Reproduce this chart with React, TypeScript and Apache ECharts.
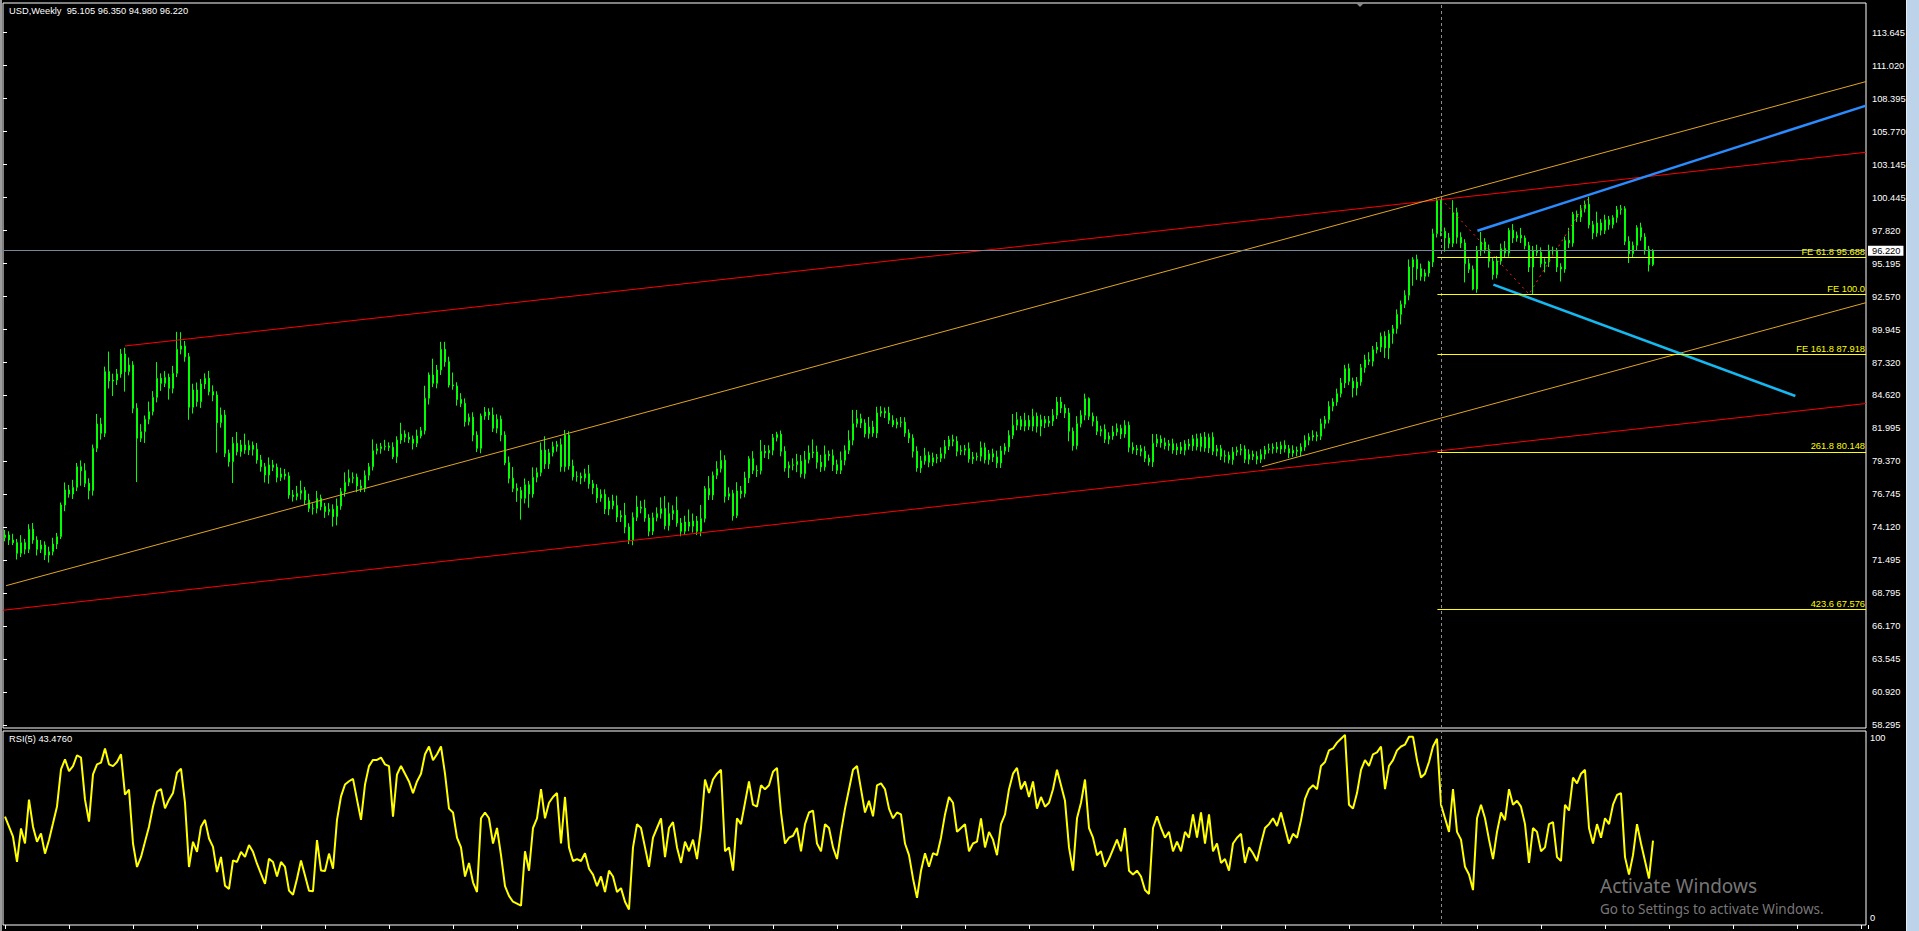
import React, { useEffect, useRef } from 'react';
import * as echarts from 'echarts';

// ---------- DATA ----------
const symbolName = 'USD';
const timeframe = 'Weekly';
const firstOpen = 73.3;
const lastOpen = 95.105;

const closes = [
  73.50, 73.10, 72.89, 72.04, 72.89, 72.36, 73.96, 73.10, 72.36, 72.70,
  71.90, 72.17, 72.78, 73.37, 75.90, 77.10, 76.78, 77.31, 78.96, 78.64,
  77.63, 77.05, 80.43, 82.37, 81.63, 86.56, 85.81, 85.89, 86.37, 87.97,
  86.56, 87.09, 83.63, 81.23, 81.76, 82.75, 83.36, 84.50, 86.02, 85.62,
  86.10, 85.22, 86.42, 88.34, 88.61, 87.75, 83.71, 85.09, 84.16, 85.57,
  86.02, 84.96, 84.69, 82.48, 83.09, 80.03, 79.36, 80.83, 80.16, 80.70,
  80.29, 80.67, 80.35, 79.50, 78.96, 78.30, 79.10, 78.91, 78.11, 78.38,
  78.22, 76.70, 76.57, 76.83, 77.05, 76.30, 75.63, 75.63, 76.43, 75.77,
  75.37, 75.55, 74.97, 75.82, 76.97, 77.71, 78.03, 78.11, 77.42, 77.23,
  78.27, 78.96, 80.24, 80.40, 80.56, 80.61, 80.51, 79.76, 81.09, 81.57,
  81.31, 81.15, 80.83, 81.42, 81.84, 84.43, 86.29, 85.62, 86.69, 88.34,
  87.35, 85.49, 85.41, 84.34, 84.02, 82.56, 82.91, 81.49, 80.43, 83.01,
  83.33, 83.09, 82.03, 82.75, 81.49, 79.28, 78.03, 77.23, 77.05, 76.43,
  77.52, 76.78, 78.11, 78.49, 80.29, 79.18, 80.08, 80.56, 80.72, 78.96,
  81.49, 79.02, 78.16, 78.19, 78.06, 78.40, 77.60, 77.26, 76.46, 76.75,
  75.58, 76.22, 75.85, 74.94, 75.07, 74.14, 73.08, 74.91, 75.74, 75.63,
  74.86, 73.80, 74.89, 75.21, 75.61, 74.25, 75.21, 75.47, 74.46, 73.80,
  74.54, 74.20, 74.62, 73.80, 74.81, 77.21, 76.70, 78.27, 78.80, 79.47,
  76.59, 76.81, 75.05, 77.02, 76.81, 78.06, 79.60, 78.67, 78.64, 80.19,
  80.06, 80.27, 81.28, 81.55, 80.19, 78.86, 79.07, 79.12, 79.39, 78.40,
  79.52, 80.06, 80.14, 79.31, 78.94, 79.95, 79.84, 79.12, 78.67, 79.47,
  80.27, 81.07, 82.40, 82.80, 82.45, 81.60, 82.13, 81.65, 83.25, 83.39,
  83.25, 82.67, 82.32, 82.53, 82.51, 81.65, 81.25, 80.19, 78.86, 79.42,
  79.87, 79.31, 79.68, 79.63, 80.00, 80.59, 81.12, 80.99, 80.19, 80.27,
  80.40, 79.58, 79.74, 79.79, 80.48, 79.52, 80.00, 79.74, 79.26, 80.22,
  80.54, 81.47, 82.27, 82.72, 82.19, 82.67, 82.19, 82.99, 82.19, 82.72,
  82.45, 82.61, 83.07, 84.13, 83.65, 83.25, 81.79, 80.64, 82.40, 83.07,
  84.40, 82.99, 82.59, 81.79, 81.94, 81.15, 81.41, 81.73, 82.02, 81.57,
  82.27, 80.51, 80.29, 80.40, 80.19, 79.63, 79.34, 80.83, 81.17, 80.88,
  80.64, 80.80, 80.29, 80.53, 80.27, 80.78, 80.62, 81.20, 80.56, 81.33,
  80.45, 81.31, 80.19, 80.40, 79.79, 79.87, 79.52, 80.13, 80.27, 80.37,
  79.55, 79.95, 79.79, 79.55, 79.95, 80.32, 80.40, 80.53, 80.37, 80.67,
  80.40, 80.05, 80.27, 80.19, 80.53, 81.07, 81.33, 81.47, 81.39, 82.40,
  82.72, 83.79, 84.13, 84.80, 85.65, 86.80, 85.78, 85.25, 85.73, 86.87,
  87.51, 87.38, 88.31, 88.52, 89.38, 88.45, 89.59, 89.99, 91.13, 91.94,
  92.66, 94.92, 95.51, 94.79, 94.17, 94.44, 95.32, 97.58, 100.25, 97.77,
  97.24, 96.81, 99.26, 97.29, 96.84, 95.19, 94.74, 93.16, 96.20, 96.92,
  96.31, 95.37, 94.31, 95.40, 96.39, 96.04, 97.85, 97.24, 97.45, 97.24,
  96.63, 94.92, 96.20, 96.09, 95.19, 95.32, 96.20, 96.25, 94.92, 94.76,
  97.05, 96.84, 99.13, 98.92, 99.58, 99.93, 98.30, 97.64, 98.44, 97.85,
  98.70, 98.30, 98.86, 99.50, 99.58, 96.97, 95.99, 96.65, 98.06, 97.32,
  96.31, 95.11, 96.22,
];

// upper / lower shadow lengths (price units) above / below the body
const wickUp = [
  0.4, 0.3, 0.5, 0.3, 0.6, 0.3, 0.4, 0.5, 0.3, 0.4,
  0.3, 0.4, 0.5, 0.3, 0.2, 0.6, 0.4, 0.6, 0.3, 0.5,
  0.6, 0.4, 0.3, 0.8, 0.5, 0.4, 1.6, 0.5, 0.4, 0.4,
  0.5, 0.6, 0.3, 0.4, 0.6, 0.3, 0.8, 0.5, 1.3, 0.4,
  0.5, 0.3, 0.6, 1.4, 1.1, 0.4, 0.3, 0.5, 0.6, 0.4,
  0.4, 0.6, 0.5, 0.3, 0.6, 0.4, 0.3, 0.5, 0.9, 0.4,
  0.9, 0.4, 0.3, 0.5, 0.4, 0.3, 0.6, 0.4, 0.3, 0.5,
  0.4, 0.3, 0.4, 0.6, 0.8, 0.3, 0.5, 0.4, 0.6, 0.3,
  0.3, 0.5, 0.4, 0.6, 0.3, 0.8, 0.7, 0.4, 0.3, 0.5,
  0.4, 0.3, 0.9, 0.4, 0.3, 0.5, 0.3, 0.4, 0.3, 0.9,
  0.3, 0.4, 0.3, 0.5, 0.3, 1.0, 0.2, 1.3, 0.4, 0.6,
  0.6, 0.4, 1.0, 0.3, 0.5, 0.4, 0.3, 0.4, 0.3, 0.2,
  0.4, 0.3, 0.6, 0.4, 0.3, 0.3, 0.5, 0.9, 0.4, 0.3,
  0.5, 0.3, 0.8, 0.4, 0.6, 1.1, 0.3, 0.4, 0.3, 0.5,
  0.4, 0.3, 0.5, 0.4, 0.3, 0.4, 0.7, 0.3, 0.3, 0.4,
  0.4, 0.3, 0.5, 0.8, 0.4, 1.0, 0.3, 0.4, 0.9, 0.5,
  0.7, 0.3, 0.4, 0.5, 0.9, 1.0, 0.9, 0.4, 1.1, 0.4,
  0.5, 1.0, 0.6, 0.4, 1.1, 0.2, 1.0, 0.3, 0.6, 0.8,
  0.4, 0.5, 0.3, 0.7, 0.4, 0.5, 0.2, 0.6, 0.4, 0.9,
  0.5, 0.4, 0.3, 0.2, 0.3, 0.4, 0.3, 0.5, 0.6, 0.5,
  0.7, 0.6, 1.0, 0.5, 0.6, 0.7, 0.3, 0.5, 0.4, 0.7,
  0.4, 0.8, 1.1, 0.7, 0.4, 0.3, 0.8, 0.5, 0.5, 0.4,
  0.3, 0.5, 0.4, 0.3, 0.4, 0.4, 0.3, 0.3, 0.4, 0.4,
  0.6, 0.3, 0.4, 0.3, 0.5, 0.5, 0.3, 0.4, 0.4, 0.4,
  0.3, 0.5, 0.4, 0.3, 0.5, 0.4, 0.3, 0.4, 0.5, 0.4,
  0.3, 0.4, 0.9, 0.6, 0.3, 0.6, 0.4, 0.6, 0.3, 0.4,
  0.3, 0.4, 0.5, 0.4, 0.4, 0.3, 0.4, 0.3, 0.6, 0.4,
  0.4, 0.1, 0.3, 0.4, 0.3, 0.4, 0.3, 0.5, 0.4, 0.3,
  0.4, 0.3, 0.4, 0.3, 0.3, 0.4, 0.3, 0.75, 0.4, 0.3,
  0.4, 0.3, 0.4, 0.3, 0.4, 0.3, 0.4, 0.3, 0.4, 0.3,
  0.4, 0.3, 0.4, 0.3, 0.3, 0.4, 0.3, 0.4, 0.3, 0.4,
  0.3, 0.4, 0.3, 0.4, 0.4, 0.3, 0.4, 0.3, 0.4, 0.3,
  0.4, 0.3, 0.4, 0.3, 0.3, 0.4, 0.3, 0.4, 0.3, 0.4,
  0.3, 0.4, 0.3, 0.4, 0.4, 0.3, 0.4, 0.3, 0.4, 0.3,
  0.4, 0.6, 0.3, 0.4, 0.3, 0.4, 0.3, 0.3, 0.4, 0.3,
  0.4, 0.6, 0.2, 0.4, 0.4, 0.3, 0.1, 0.4, 0.2, 0.1,
  0.3, 0.4, 1.0, 0.4, 0.4, 0.3, 0.4, 0.3, 0.4, 0.8,
  0.3, 0.4, 0.3, 0.4, 0.4, 0.6, 0.2, 0.5, 0.3, 0.6,
  0.2, 0.3, 0.4, 0.5, 0.4, 0.3, 0.5, 0.3, 0.2, 0.3,
  0.3, 1.0, 0.2, 0.3, 0.3, 0.3, 0.6, 0.3, 0.9, 0.3,
  0.4, 0.3, 0.2, 0.3, 0.3, 0.2, 0.4, 0.3, 0.2, 0.4,
  0.3, 0.3, 0.13,
];

const wickDn = [
  0.3, 0.4, 0.2, 0.5, 0.3, 0.4, 0.3, 0.3, 0.5, 0.3,
  0.4, 0.6, 0.3, 0.4, 0.2, 0.5, 0.3, 0.4, 0.3, 1.2,
  0.3, 0.7, 0.4, 0.3, 0.5, 0.3, 0.6, 1.2, 0.4, 0.3,
  1.6, 0.3, 0.4, 3.5, 0.3, 0.9, 0.4, 0.3, 0.4, 0.6,
  0.3, 0.9, 0.4, 0.3, 0.4, 0.4, 1.0, 0.5, 0.4, 0.5,
  0.4, 0.3, 0.5, 2.4, 0.4, 0.3, 0.4, 1.7, 0.3, 0.4,
  0.3, 0.4, 0.5, 0.3, 0.4, 0.6, 0.7, 0.3, 0.4, 0.3,
  0.3, 0.3, 0.4, 0.3, 0.5, 0.4, 0.3, 0.5, 0.4, 0.3,
  0.5, 0.3, 0.8, 0.7, 0.3, 0.4, 0.3, 0.4, 0.5, 0.3,
  0.3, 0.4, 0.3, 0.3, 0.4, 0.3, 0.3, 0.2, 0.5, 0.3,
  0.4, 0.3, 0.5, 0.3, 0.2, 0.3, 0.5, 0.3, 0.4, 0.4,
  0.4, 0.2, 0.3, 0.5, 0.3, 0.4, 0.3, 0.5, 0.3, 0.4,
  0.3, 0.4, 0.3, 0.4, 0.5, 0.2, 0.4, 0.3, 0.9, 1.7,
  0.4, 1.1, 0.3, 0.4, 0.3, 0.4, 0.4, 0.3, 0.4, 0.4,
  0.4, 0.3, 0.3, 0.4, 0.5, 0.3, 0.4, 0.5, 0.4, 0.3,
  0.4, 0.5, 0.3, 0.4, 0.4, 0.5, 0.3, 0.4, 0.3, 0.4,
  0.3, 0.4, 0.3, 0.3, 0.4, 0.3, 0.4, 0.5, 0.3, 0.4,
  0.3, 0.4, 0.5, 0.3, 0.4, 0.3, 0.4, 0.4, 0.3, 0.3,
  0.5, 0.3, 0.4, 0.2, 0.4, 0.3, 0.4, 0.3, 0.5, 0.3,
  0.4, 0.5, 0.4, 0.3, 0.4, 0.3, 0.8, 0.4, 0.6, 0.3,
  0.4, 0.3, 0.4, 0.5, 0.4, 0.3, 0.4, 0.5, 0.3, 0.3,
  0.4, 0.3, 0.4, 0.3, 0.4, 0.3, 0.4, 0.3, 0.4, 0.3,
  0.4, 0.3, 0.2, 0.3, 0.4, 0.3, 0.4, 0.5, 0.3, 0.4,
  0.3, 0.4, 0.3, 0.4, 0.3, 0.4, 0.3, 0.4, 0.4, 0.3,
  0.4, 0.3, 0.4, 0.3, 0.4, 0.3, 0.4, 0.4, 0.4, 0.4,
  0.3, 0.4, 0.3, 0.4, 0.3, 0.4, 0.3, 0.4, 0.5, 0.8,
  0.4, 0.3, 0.4, 0.3, 0.4, 0.4, 0.8, 0.4, 0.3, 0.3,
  0.4, 0.3, 0.4, 0.3, 0.4, 0.3, 0.4, 0.3, 0.3, 0.4,
  0.3, 0.4, 0.3, 0.4, 0.4, 0.3, 0.3, 0.4, 0.3, 0.4,
  0.3, 0.4, 0.3, 0.4, 0.3, 0.4, 0.3, 0.4, 0.3, 0.4,
  0.3, 0.4, 0.3, 0.4, 0.3, 0.5, 0.3, 0.4, 0.3, 0.4,
  0.3, 0.4, 0.3, 0.4, 0.3, 0.4, 0.3, 0.4, 0.3, 0.4,
  0.3, 0.4, 0.3, 0.4, 0.4, 0.3, 0.4, 0.3, 0.4, 0.3,
  0.4, 0.3, 0.4, 0.3, 0.3, 0.4, 0.3, 0.75, 0.6, 0.3,
  0.4, 0.3, 0.4, 0.3, 0.4, 0.8, 0.9, 0.8, 0.4, 0.8,
  0.3, 0.4, 1.5, 0.9, 0.35, 0.4, 0.3, 0.4, 0.3, 0.4,
  1.1, 0.4, 0.3, 0.5, 0.4, 1.5, 0.3, 0.1, 0.3, 0.4,
  0.3, 0.5, 0.4, 0.3, 0.3, 0.4, 0.3, 0.4, 0.3, 0.4,
  0.3, 0.4, 2.2, 0.3, 0.3, 0.7, 0.4, 0.3, 0.4, 1.0,
  0.3, 0.4, 0.3, 0.4, 0.4, 0.3, 0.3, 0.5, 0.3, 0.4,
  0.3, 0.4, 0.3, 0.4, 0.4, 0.3, 0.75, 0.3, 0.4, 0.3,
  0.4, 0.55, 0.125,
];

// RSI(5)
const rsiValues = [
  55.9, 50.7, 45.5, 32.5, 49.8, 42.0, 64.6, 50.7, 42.9, 47.2,
  36.8, 43.8, 52.4, 61.1, 80.2, 85.4, 79.3, 81.9, 87.5, 86.3,
  64.6, 53.3, 77.6, 82.8, 83.7, 91.0, 82.8, 81.9, 84.0, 88.0,
  67.2, 69.8, 42.0, 29.9, 35.1, 42.9, 50.7, 61.1, 68.9, 70.1,
  60.2, 64.6, 68.1, 78.5, 80.6, 62.9, 29.9, 42.9, 37.7, 50.7,
  54.2, 44.6, 40.3, 27.3, 35.1, 20.3, 18.6, 33.3, 32.5, 37.7,
  35.1, 41.2, 37.7, 31.6, 26.4, 21.2, 34.2, 32.5, 25.0, 32.5,
  29.9, 17.7, 15.6, 23.8, 33.3, 25.5, 17.7, 17.4, 43.8, 28.1,
  27.8, 36.8, 29.0, 54.2, 66.3, 72.4, 74.1, 75.3, 64.6, 54.2,
  72.4, 81.9, 85.1, 85.1, 86.3, 82.8, 81.9, 55.9, 77.6,
  82, 78, 74, 68, 74, 78, 88, 92, 85, 88, 92,
  78, 60, 58, 45, 40, 25, 32, 22, 17, 55,
  58, 55, 42, 50, 36, 20, 15, 12, 11, 10,
  38, 28, 50, 55, 70, 55, 63, 66, 68, 42,
  66, 40, 33, 34, 33, 37, 29, 26, 20, 25,
  17, 28, 25, 17, 19, 12, 8, 40, 52, 50,
  40, 30, 45, 50, 55, 35, 50, 53, 40, 32,
  43, 38, 44, 34, 50, 75, 68, 75, 78, 80,
  38, 40, 28, 55, 52, 63, 74, 62, 61, 72,
  70, 72, 79, 81, 58, 42, 45, 46, 50, 38,
  52, 58, 59, 42, 38, 52, 50, 40, 34, 48,
  60, 70, 80, 82, 70, 58, 64, 56, 72, 73,
  70, 60, 55, 58, 57, 42, 36, 24, 14, 28,
  37, 30, 37, 36, 45, 57, 66, 63, 48, 50,
  52, 38, 42, 43, 55, 40, 48, 44, 36, 52,
  57, 70, 78, 81, 70, 74, 66, 74, 60, 66,
  61, 63, 70, 80, 72, 64, 40, 28, 55, 63,
  75, 50, 45, 36, 38, 30, 34, 39, 44, 38,
  50, 28, 26, 28, 25, 18, 16, 50, 56, 50,
  45, 48, 38, 43, 38, 48, 45, 57, 45, 58,
  42, 57, 38, 42, 32, 34, 28, 42, 45, 47,
  32, 40, 37, 33, 42, 50, 52, 55, 51, 58,
  50, 42, 47, 45, 54, 65, 70, 72, 70, 82,
  84, 90, 91, 94, 96, 98, 62, 60, 68, 80,
  85, 82, 88, 89, 92, 70, 82, 85, 90, 92,
  93, 97, 97, 85, 76, 78, 84, 92, 96, 62,
  55, 48, 70, 48, 44, 30, 26, 18, 55, 62,
  55, 44, 34, 48, 58, 54, 70, 62, 64, 61,
  52, 32, 50, 48, 38, 40, 52, 53, 35, 33,
  62, 59, 76, 73, 78, 80, 50, 42, 52, 45,
  55, 52, 62, 67, 68, 35, 26, 36, 52, 42,
  33, 24, 43.476,
];

// price scale labels, top to bottom
const priceTicks = [
  '113.645', '111.020', '108.395', '105.770', '103.145', '100.445', '97.820',
  '95.195', '92.570', '89.945', '87.320', '84.620', '81.995', '79.370', '76.745',
  '74.120', '71.495', '68.795', '66.170', '63.545', '60.920', '58.295',
];
const rsiTicks = ['100', '0'];

const currentPrice = 96.22;
const cursorBar = 359;

// Fibonacci expansion levels
const feLabels = ['FE 61.8 95.688', 'FE 100.0', 'FE 161.8 87.918', '261.8 80.148', '423.6 67.576'];
const feValues = [95.688, 92.72, 87.918, 80.148, 67.576];
const feStart = 358.1;
// Fibo expansion path A -> B -> C
const fePath = [[359, 100.37], [381, 92.75], [396, 100.49]];

// trend lines [bar index, price]
const redUpper = [[30, 88.61], [465.25, 104.09]];
const redLower = [[-0.5, 67.49], [465.25, 84.01]];
const orangeLong = [[0.25, 69.45], [465.25, 109.74]];
const orangeShort = [[314.2, 78.96], [465.25, 92.07]];
const blueUpper = [[368.1, 97.82], [465.25, 107.82]];
const blueLower = [[372.1, 93.51], [447.6, 84.61]];

// ---------- CHART ----------
const FONT = '"Liberation Sans", Arial, sans-serif';

export default function App() {
  const ref = useRef<HTMLDivElement>(null);

  useEffect(() => {
    document.body.style.margin = '0';
    document.body.style.background = '#000';
    const el = ref.current;
    if (!el) return;
    const chart = echarts.init(el, null, { renderer: 'svg' });

    const n = closes.length;
    const candles = closes.map((c, i) => {
      const o = i === 0 ? firstOpen : i === n - 1 ? lastOpen : closes[i - 1];
      const hi = Math.max(o, c) + wickUp[i];
      const lo = Math.min(o, c) - wickDn[i];
      return [i, o, c, lo, hi];
    });
    const last = candles[n - 1];
    const header = `${symbolName},${timeframe}  ${last[1].toFixed(3)} ${last[4].toFixed(3)} ${last[3].toFixed(3)} ${last[2].toFixed(3)}`;
    const rsiLast = rsiValues[rsiValues.length - 1];

    const xMin = -0.5;
    const xMax = 465.25;

    const trend = (pts: number[][], color: string, width: number, type: any = 'solid') => ({
      type: 'line',
      xAxisIndex: 0,
      yAxisIndex: 0,
      data: pts,
      showSymbol: false,
      symbol: 'none',
      silent: true,
      z: 5,
      lineStyle: { color, width, type },
    });

    const feMark = feValues.map((v, k) => [
      {
        coord: [feStart, v],
        label: {
          show: true,
          formatter: feLabels[k],
          position: 'insideEndTop',
          distance: [1, 1],
          color: '#ffff00',
          fontSize: 9.3,
          fontFamily: FONT,
        },
        lineStyle: { color: '#ffff00', width: 1, type: 'solid' },
      },
      { coord: [xMax, v] },
    ]);

    const option: any = {
      animation: false,
      backgroundColor: '#000000',
      grid: [
        { left: 3, top: 3, width: 1863, height: 725, show: true, borderColor: '#ffffff', borderWidth: 1, backgroundColor: 'transparent' },
        { left: 3, top: 731, width: 1863, height: 194, show: true, borderColor: '#ffffff', borderWidth: 1, backgroundColor: 'transparent' },
        { left: 3, top: 32.7, width: 1863, height: 692.6, show: false },
        { left: 5, top: 924, width: 1863, height: 1, show: false },
      ],
      xAxis: [
        { gridIndex: 0, type: 'value', min: xMin, max: xMax, show: false },
        { gridIndex: 1, type: 'value', min: xMin, max: xMax, show: false },
        { gridIndex: 2, type: 'value', min: 0, max: 1, show: false },
        {
          gridIndex: 3, type: 'value', min: 0, max: 465.75, interval: 16,
          axisLine: { show: false },
          axisTick: { show: true, length: 4, lineStyle: { color: '#ffffff', width: 1 } },
          axisLabel: { show: false },
          splitLine: { show: false },
        },
      ],
      yAxis: [
        { gridIndex: 0, type: 'value', min: 58.077, max: 116.019, show: false },
        { gridIndex: 1, type: 'value', min: 0, max: 100, show: false },
        {
          gridIndex: 2, type: 'category', position: 'right', boundaryGap: false,
          data: priceTicks.slice().reverse(),
          axisLine: { show: false },
          axisTick: { show: true, length: 4, lineStyle: { color: '#ffffff', width: 1 } },
          axisLabel: { show: true, interval: 0, color: '#ffffff', fontSize: 9.3, fontFamily: FONT, margin: 6 },
          splitLine: { show: false },
        },
        { gridIndex: 3, type: 'value', show: false },
      ],
      series: [
        {
          type: 'candlestick',
          xAxisIndex: 0,
          yAxisIndex: 0,
          data: candles,
          encode: { x: 0, y: [1, 2, 3, 4] },
          barWidth: 2,
          silent: true,
          z: 3,
          itemStyle: {
            color: '#000000',
            color0: '#ffffff',
            borderColor: '#00ff00',
            borderColor0: '#00ff00',
            borderColorDoji: '#00ff00',
            borderWidth: 1,
          },
          markLine: {
            silent: true,
            symbol: ['none', 'none'],
            animation: false,
            z: 6,
            data: [
              {
                yAxis: currentPrice,
                lineStyle: { color: '#778899', width: 1, type: 'solid' },
                label: {
                  show: true,
                  position: 'end',
                  distance: 2,
                  formatter: currentPrice.toFixed(3),
                  backgroundColor: '#ffffff',
                  color: '#000000',
                  padding: [1, 3, 0, 4],
                  fontSize: 9.3,
                  fontFamily: FONT,
                },
              },
              {
                xAxis: cursorBar,
                lineStyle: { color: '#8c8c8c', width: 1, type: [3, 3] },
                label: { show: false },
              },
              ...feMark,
            ],
          },
        },
        trend(redUpper, '#ff0000', 1),
        trend(redLower, '#ff0000', 1),
        trend(orangeLong, '#e0a526', 1),
        trend(orangeShort, '#e0a526', 1),
        trend(blueUpper, '#2b8cff', 2.5),
        trend(blueLower, '#16b8f0', 2.5),
        trend(fePath, '#ff2020', 1, [2, 4]),
        {
          type: 'line',
          xAxisIndex: 1,
          yAxisIndex: 1,
          data: rsiValues.map((v, i) => [i, v]),
          showSymbol: false,
          symbol: 'none',
          silent: true,
          lineStyle: { color: '#ffff00', width: 2 },
          markLine: {
            silent: true,
            symbol: ['none', 'none'],
            data: [{ xAxis: cursorBar, lineStyle: { color: '#8c8c8c', width: 1, type: [3, 3] }, label: { show: false } }],
          },
        },
      ],
      graphic: [
        { type: 'rect', shape: { x: 0, y: 0, width: 2, height: 931 }, style: { fill: '#9c9c9c' }, silent: true },
        { type: 'rect', shape: { x: 1906, y: 0, width: 13, height: 931 }, style: { fill: '#bcd3ea' }, silent: true },
        { type: 'rect', shape: { x: 1906, y: 0, width: 1, height: 931 }, style: { fill: '#e4ecf4' }, silent: true },
        { type: 'polygon', shape: { points: [[1356, 3], [1364, 3], [1360, 7]] }, style: { fill: '#8a8a8a' }, silent: true },
        {
          type: 'text', left: 9, top: 6,
          style: { text: header, fill: '#ffffff', font: `9.3px ${FONT}` },
          silent: true,
        },
        {
          type: 'text', left: 9, top: 734,
          style: { text: `RSI(5) ${rsiLast.toFixed(4)}`, fill: '#ffffff', font: `9.3px ${FONT}` },
          silent: true,
        },
        {
          type: 'text', left: 1870, top: 733,
          style: { text: rsiTicks[0], fill: '#ffffff', font: `9.3px ${FONT}` },
          silent: true,
        },
        {
          type: 'text', left: 1870, top: 913,
          style: { text: rsiTicks[1], fill: '#ffffff', font: `9.3px ${FONT}` },
          silent: true,
        },
        {
          type: 'text', left: 1600, top: 876,
          style: { text: 'Activate Windows', fill: 'rgba(200,200,200,0.6)', font: `19px "Noto Sans", sans-serif` },
          silent: true,
        },
        {
          type: 'text', left: 1600, top: 902,
          style: { text: 'Go to Settings to activate Windows.', fill: 'rgba(200,200,200,0.6)', font: `13.5px "Noto Sans", sans-serif` },
          silent: true,
        },
      ],
    };

    chart.setOption(option);
    return () => chart.dispose();
  }, []);

  return (
    <div
      ref={ref}
      style={{ position: 'fixed', left: 0, top: 0, width: 1919, height: 931, background: '#000' }}
    />
  );
}
